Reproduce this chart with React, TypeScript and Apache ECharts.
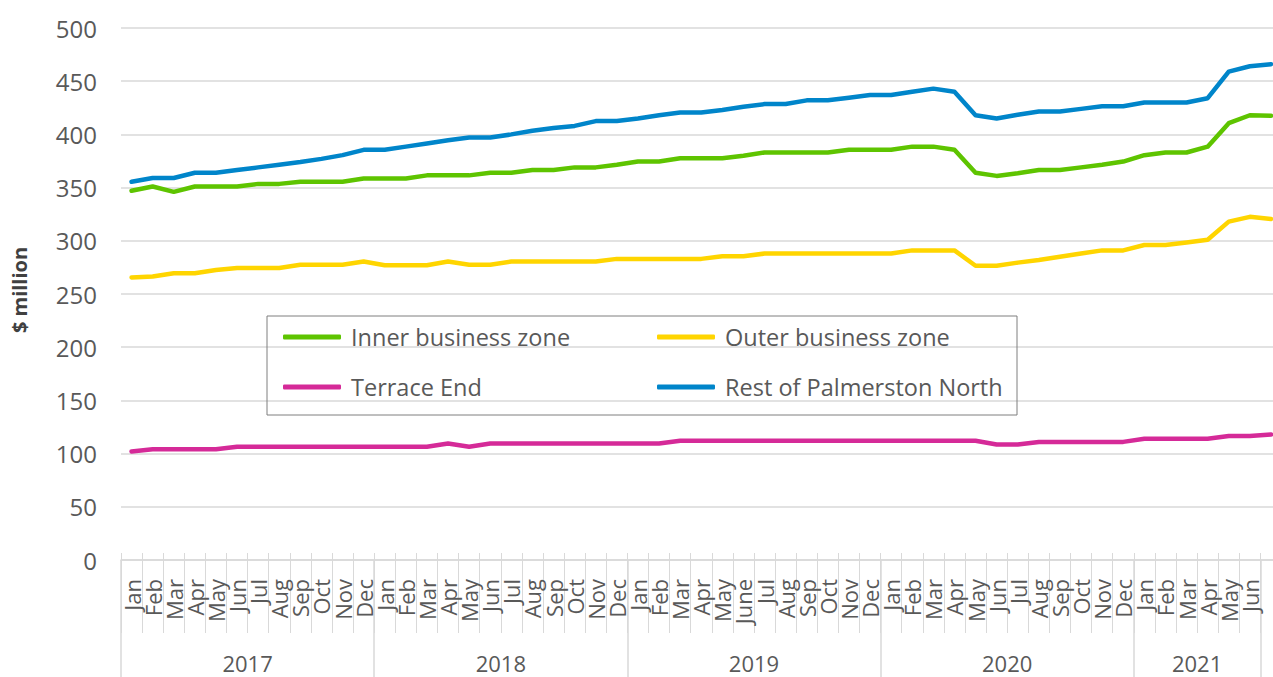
import React, { useEffect, useRef } from "react";
import * as echarts from "echarts";

const monthLabels = [
  "Jan","Feb","Mar","Apr","May","Jun","Jul","Aug","Sep","Oct","Nov","Dec",
  "Jan","Feb","Mar","Apr","May","Jun","Jul","Aug","Sep","Oct","Nov","Dec",
  "Jan","Feb","Mar","Apr","May","June","Jul","Aug","Sep","Oct","Nov","Dec",
  "Jan","Feb","Mar","Apr","May","Jun","Jul","Aug","Sep","Oct","Nov","Dec",
  "Jan","Feb","Mar","Apr","May","Jun",""
];
const years = ["2017", "2018", "2019", "2020", "2021"];
const monthsPerYear = [12, 12, 12, 12, 6];

const seriesNames = ["Inner business zone", "Outer business zone", "Terrace End", "Rest of Palmerston North"];
const seriesColors = ["#5EC400", "#FFD500", "#D52A98", "#0085CA"];

const innerBusiness = [
  347, 351, 346, 351, 351, 351, 353.5, 353.5, 355.5, 355.5, 355.5, 358.5,
  358.5, 358.5, 361.5, 361.5, 361.5, 364, 364, 366.5, 366.5, 369, 369, 371.5,
  374.5, 374.5, 377.5, 377.5, 377.5, 380, 383, 383, 383, 383, 385.5, 385.5,
  385.5, 388.5, 388.5, 385.5, 364, 361, 363.5, 366.5, 366.5, 369, 371.5, 374.5,
  380.5, 383, 383, 388.5, 410.5, 418, 417.5
];
const outerBusiness = [
  265.5, 266.5, 269.5, 269.5, 272.5, 274.5, 274.5, 274.5, 277.5, 277.5, 277.5, 280.5,
  277, 277, 277, 280.5, 277.5, 277.5, 280.5, 280.5, 280.5, 280.5, 280.5, 283,
  283, 283, 283, 283, 285.5, 285.5, 288, 288, 288, 288, 288, 288,
  288, 291, 291, 291, 276.5, 276.5, 279.5, 282, 285, 288, 291, 291,
  296, 296, 298.5, 301, 318, 322.5, 320.5
];
const terraceEnd = [
  102, 104, 104, 104, 104, 106.5, 106.5, 106.5, 106.5, 106.5, 106.5, 106.5,
  106.5, 106.5, 106.5, 109.5, 106.5, 109.5, 109.5, 109.5, 109.5, 109.5, 109.5, 109.5,
  109.5, 109.5, 112, 112, 112, 112, 112, 112, 112, 112, 112, 112,
  112, 112, 112, 112, 112, 108.5, 108.5, 111, 111, 111, 111, 111,
  114, 114, 114, 114, 116.5, 116.5, 118
];
const restOfPN = [
  355.5, 359, 359, 364, 364, 366.5, 369, 371.5, 374, 377, 380.5, 385.5,
  385.5, 388.5, 391.5, 394.5, 397, 397, 400, 403.5, 406, 408, 412.5, 412.5,
  415, 418, 420.5, 420.5, 423, 426, 428.5, 428.5, 432, 432, 434.5, 437,
  437, 440, 443, 440, 418, 415, 418.5, 421.5, 421.5, 424, 426.5, 426.5,
  430, 430, 430, 434, 459, 464, 466
];
const seriesData = [innerBusiness, outerBusiness, terraceEnd, restOfPN];

const yTicks = { min: 0, max: 500, interval: 50 };

const FONT = "'Open Sans', 'Noto Sans', sans-serif";
const TEXT = "#595959";
const GRID = "#d9d9d9";

export default function App() {
  const ref = useRef<HTMLDivElement>(null);
  useEffect(() => {
    if (!ref.current) return;
    const chart = echarts.init(ref.current, null, { renderer: "svg" });
    const boundaries: number[] = [0];
    monthsPerYear.forEach((m) => boundaries.push(boundaries[boundaries.length - 1] + m));
    boundaries.push(monthLabels.length);
    const yearCenters = monthsPerYear.map((m, i) => boundaries[i] + m / 2);
    const n = monthLabels.length;

    chart.setOption({
      animation: false,
      backgroundColor: "#ffffff",
      textStyle: { fontFamily: FONT },
      grid: {
        left: 121,
        right: 1300 - (121 + n * 21.1),
        top: 28,
        bottom: 117,
        containLabel: false,
        outerBoundsMode: "none",
      },
      legend: {
        left: 267,
        top: 316,
        width: 730,
        orient: "horizontal",
        padding: [9, 12, 16, 16],
        borderColor: "#7f7f7f",
        borderWidth: 1,
        itemWidth: 58,
        itemHeight: 5,
        itemGap: 26,
        icon: "roundRect",
        textStyle: { fontSize: 23.5, color: TEXT, fontFamily: FONT, width: 280, lineHeight: 22, padding: [0, 0, 0, 5] },
        data: seriesNames,
      },
      xAxis: [
        {
          type: "category",
          position: "bottom",
          data: monthLabels,
          boundaryGap: true,
          axisLine: { show: true, lineStyle: { color: GRID, width: 1.5 } },
          axisTick: { show: true, interval: 0, length: 73, lineStyle: { color: GRID, width: 1 } },
          axisLabel: { interval: 0, rotate: 90, margin: 19, fontSize: 22, color: TEXT, fontFamily: FONT },
          splitLine: { show: false },
        },
        {
          type: "category",
          position: "bottom",
          offset: 0,
          data: monthLabels,
          boundaryGap: true,
          axisLine: { show: false },
          axisTick: { show: true, inside: true, interval: 0, length: 7, lineStyle: { color: GRID, width: 1 } },
          axisLabel: { show: false },
          splitLine: { show: false },
        },
        {
          type: "value",
          position: "bottom",
          offset: 0,
          min: 0,
          max: n,
          axisLine: { show: false },
          axisTick: { show: true, customValues: boundaries, length: 125, lineStyle: { color: GRID, width: 1.5 } },
          axisLabel: {
            show: true,
            customValues: yearCenters,
            margin: 92,
            fontSize: 22,
            color: TEXT,
            fontFamily: FONT,
            formatter: (v: number) => {
              const idx = yearCenters.findIndex((c) => Math.abs(c - v) < 0.01);
              return idx >= 0 ? years[idx] : "";
            },
          },
          splitLine: { show: false },
        },
      ],
      yAxis: {
        type: "value",
        min: yTicks.min,
        max: yTicks.max,
        interval: yTicks.interval,
        name: "$ million",
        nameLocation: "middle",
        nameRotate: 90,
        nameGap: 92,
        nameTextStyle: { fontSize: 20, fontWeight: "bold", color: "#404040", fontFamily: FONT, padding: [0, 0, 0, 8] },
        axisLine: { show: false },
        axisTick: { show: false },
        axisLabel: { fontSize: 24, color: TEXT, margin: 24, fontFamily: FONT },
        splitLine: { show: true, lineStyle: { color: GRID, width: 1.5 } },
      },
      series: seriesNames.map((name, i) => ({
        name,
        type: "line",
        xAxisIndex: 0,
        data: seriesData[i],
        symbol: "none",
        color: seriesColors[i],
        lineStyle: { width: 4.5, color: seriesColors[i], cap: "round", join: "round" },
      })),
    });
    return () => chart.dispose();
  }, []);

  return (
    <div style={{ position: "fixed", left: 0, top: 0, width: 1273, height: 677, overflow: "hidden", background: "#fff" }}>
      <div ref={ref} style={{ width: 1300, height: 677 }} />
    </div>
  );
}
